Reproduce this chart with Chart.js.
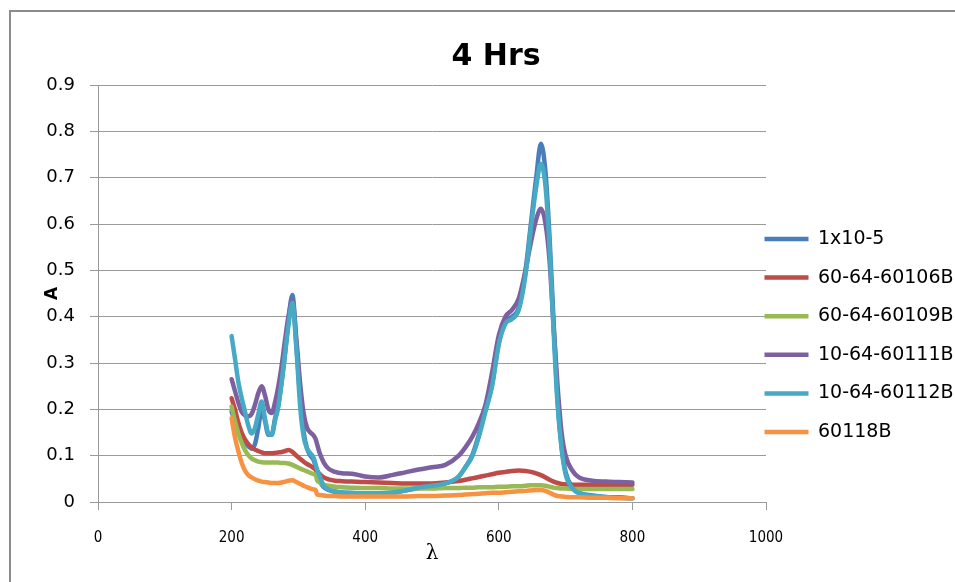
<!DOCTYPE html>
<html>
<head>
<meta charset="utf-8">
<title>4 Hrs</title>
<script src="https://cdn.jsdelivr.net/npm/chart.js@4.4.1/dist/chart.umd.min.js"></script>
<style>
  html, body { margin: 0; padding: 0; background: #fff; overflow: hidden; }
  #frame {
    position: absolute; left: 9px; top: 10px;
    width: 970px; height: 647px;
    border-top: 2px solid #8c8c8c; border-left: 2px solid #8c8c8c;
  }
  #myChart { display: block; }
</style>
</head>
<body>
<div id="frame"><canvas id="myChart" width="970" height="647"></canvas></div>
<script>
// wavelength (nm) shared by every series
const wavelengths = [
  200, 205, 210, 215, 220, 225, 230, 235, 240, 245,
  250, 255, 260, 265, 270, 275, 280, 285, 291, 297,
  303, 308, 313, 318, 323, 326, 328, 332, 338, 345,
  355, 365, 380, 400, 420, 440, 460, 480, 500, 520,
  540, 550, 560, 570, 580, 590, 600, 610, 620, 630,
  640, 648, 656, 663, 670, 676, 682, 688, 694, 700,
  710, 720, 740, 760, 780, 800
];

const seriesNames = ["1x10-5", "60-64-60106B", "60-64-60109B", "10-64-60111B", "10-64-60112B", "60118B"];
const seriesColors = ["#4a7ebb", "#be4b48", "#98b954", "#7d60a0", "#46aac5", "#f69240"];

const a1x10_5 = [
  0.195, 0.175, 0.155, 0.140, 0.128, 0.120, 0.115, 0.125, 0.160, 0.200,
  0.175, 0.145, 0.145, 0.180, 0.210, 0.260, 0.320, 0.390, 0.447, 0.340,
  0.220, 0.150, 0.115, 0.100, 0.090, 0.075, 0.060, 0.045, 0.032, 0.026,
  0.022, 0.020, 0.019, 0.018, 0.018, 0.020, 0.025, 0.030, 0.035, 0.040,
  0.055, 0.075, 0.100, 0.145, 0.200, 0.255, 0.345, 0.390, 0.400, 0.420,
  0.500, 0.600, 0.700, 0.773, 0.710, 0.570, 0.390, 0.220, 0.120, 0.065,
  0.032, 0.020, 0.014, 0.011, 0.010, 0.008
];
const a60106B = [
  0.224, 0.200, 0.172, 0.150, 0.135, 0.125, 0.118, 0.113, 0.110, 0.107,
  0.105, 0.105, 0.105, 0.106, 0.107, 0.108, 0.110, 0.112, 0.108, 0.100,
  0.093, 0.087, 0.082, 0.078, 0.073, 0.070, 0.067, 0.060, 0.053, 0.049,
  0.046, 0.045, 0.044, 0.043, 0.042, 0.041, 0.040, 0.040, 0.040, 0.042,
  0.045, 0.048, 0.051, 0.054, 0.057, 0.060, 0.063, 0.065, 0.067, 0.068,
  0.067, 0.065, 0.062, 0.058, 0.053, 0.048, 0.044, 0.041, 0.039, 0.038,
  0.037, 0.037, 0.037, 0.037, 0.037, 0.037
];
const a60109B = [
  0.206, 0.175, 0.148, 0.128, 0.112, 0.101, 0.094, 0.090, 0.087, 0.086,
  0.085, 0.085, 0.085, 0.085, 0.085, 0.084, 0.084, 0.083, 0.080, 0.076,
  0.072, 0.069, 0.066, 0.063, 0.060, 0.058, 0.047, 0.042, 0.037, 0.035,
  0.033, 0.032, 0.031, 0.030, 0.030, 0.029, 0.029, 0.029, 0.029, 0.030,
  0.030, 0.031, 0.031, 0.032, 0.032, 0.032, 0.033, 0.033, 0.034, 0.034,
  0.035, 0.036, 0.036, 0.036, 0.035, 0.033, 0.031, 0.030, 0.029, 0.029,
  0.028, 0.028, 0.028, 0.028, 0.028, 0.028
];
const a60111B = [
  0.265, 0.240, 0.215, 0.195, 0.187, 0.185, 0.190, 0.210, 0.235, 0.250,
  0.230, 0.200, 0.192, 0.215, 0.250, 0.295, 0.350, 0.400, 0.435, 0.350,
  0.250, 0.190, 0.160, 0.150, 0.143, 0.135, 0.125, 0.105, 0.085, 0.072,
  0.065, 0.062, 0.061, 0.055, 0.053, 0.058, 0.064, 0.070, 0.075, 0.080,
  0.100, 0.118, 0.140, 0.170, 0.210, 0.280, 0.360, 0.400, 0.415, 0.440,
  0.500, 0.560, 0.610, 0.633, 0.600, 0.520, 0.380, 0.250, 0.150, 0.100,
  0.068, 0.053, 0.046, 0.044, 0.043, 0.042
];
const a60112B = [
  0.358, 0.310, 0.260, 0.225, 0.195, 0.165, 0.148, 0.160, 0.190, 0.217,
  0.180, 0.148, 0.145, 0.175, 0.206, 0.260, 0.321, 0.380, 0.430, 0.330,
  0.200, 0.140, 0.115, 0.105, 0.095, 0.080, 0.070, 0.055, 0.035, 0.027,
  0.023, 0.021, 0.020, 0.019, 0.019, 0.020, 0.025, 0.031, 0.035, 0.040,
  0.055, 0.075, 0.098, 0.140, 0.195, 0.250, 0.340, 0.385, 0.395, 0.415,
  0.490, 0.590, 0.680, 0.730, 0.680, 0.550, 0.370, 0.210, 0.115, 0.060,
  0.030, 0.019, 0.013, 0.011, 0.009, 0.008
];
const a60118B = [
  0.181, 0.140, 0.110, 0.085, 0.068, 0.058, 0.053, 0.049, 0.046, 0.044,
  0.043, 0.042, 0.041, 0.041, 0.041, 0.042, 0.044, 0.046, 0.047, 0.043,
  0.039, 0.035, 0.032, 0.029, 0.027, 0.025, 0.016, 0.015, 0.014, 0.013,
  0.013, 0.012, 0.012, 0.012, 0.012, 0.012, 0.012, 0.013, 0.013, 0.014,
  0.015, 0.016, 0.017, 0.018, 0.019, 0.020, 0.020, 0.021, 0.022, 0.023,
  0.024, 0.025, 0.026, 0.026, 0.024, 0.020, 0.016, 0.013, 0.012, 0.011,
  0.010, 0.010, 0.009, 0.009, 0.008, 0.008
];

const allSeries = [a1x10_5, a60106B, a60109B, a60111B, a60112B, a60118B];

// axis ranges: [min, max, step]
const xRange = [0, 1000, 200];
const yRange = [0, 0.9, 0.1];

const LEGEND_PAD = 19.6;

const datasets = allSeries.map((vals, i) => ({
  label: seriesNames[i],
  data: wavelengths.map((w, j) => ({ x: w, y: vals[j] })),
  borderColor: seriesColors[i],
  backgroundColor: seriesColors[i],
  borderWidth: 4.5,
  pointRadius: 0,
  showLine: true,
  cubicInterpolationMode: "monotone",
  borderCapStyle: "round",
  borderJoinStyle: "round",
  // excel draws the last series on top
  order: allSeries.length - i
}));

// the legend sample sits right against the plot, padding only spaces the rows
const legendNudge = {
  id: "legendNudge",
  afterLayout(chart) {
    chart.legend.left -= LEGEND_PAD + 1.5;
  }
};

const grey = "#9a9a9a";

new Chart(document.getElementById("myChart"), {
  type: "scatter",
  data: { datasets },
  plugins: [legendNudge],
  options: {
    responsive: false,
    animation: false,
    layout: { padding: 0 },
    plugins: {
      tooltip: { enabled: false },
      title: {
        display: true,
        text: "4 Hrs",
        color: "#000",
        font: { family: "'DejaVu Sans'", size: 30, weight: "bold" },
        padding: { top: 27, bottom: 10 }
      },
      legend: {
        position: "right",
        maxWidth: 215,
        labels: {
          usePointStyle: true,
          pointStyle: "line",
          pointStyleWidth: 44,
          padding: LEGEND_PAD,
          color: "#000",
          font: { family: "'DejaVu Sans'", size: 19 },
          sort: (a, b) => a.datasetIndex - b.datasetIndex
        }
      }
    },
    scales: {
      x: {
        type: "linear",
        min: xRange[0],
        max: xRange[1],
        afterFit: scale => { scale.height = 157; },
        ticks: {
          stepSize: xRange[2],
          padding: 19,
          maxRotation: 0,
          color: "#000",
          font: { family: "'Liberation Sans Narrow', 'DejaVu Sans Condensed', 'Liberation Sans'", size: 15 },
          callback: v => String(v)
        },
        grid: { drawOnChartArea: false, drawTicks: true, tickLength: 8, color: grey },
        border: { color: grey },
        title: {
          display: true,
          text: "λ",
          color: "#000",
          font: { family: "'DejaVu Serif'", size: 20 },
          padding: { top: 0, bottom: 93 }
        }
      },
      y: {
        min: yRange[0],
        max: yRange[1],
        afterFit: scale => { scale.width = 87; },
        ticks: {
          stepSize: yRange[2],
          padding: 15,
          color: "#000",
          font: { family: "'DejaVu Sans'", size: 18 },
          callback: v => String(Math.round(v * 10) / 10)
        },
        grid: { color: grey, tickLength: 8 },
        border: { color: grey },
        title: {
          display: true,
          text: "A",
          color: "#000",
          font: { family: "'DejaVu Sans'", size: 17, weight: "bold" },
          padding: { top: 31, bottom: 0 }
        }
      }
    }
  }
});
</script>
</body>
</html>
